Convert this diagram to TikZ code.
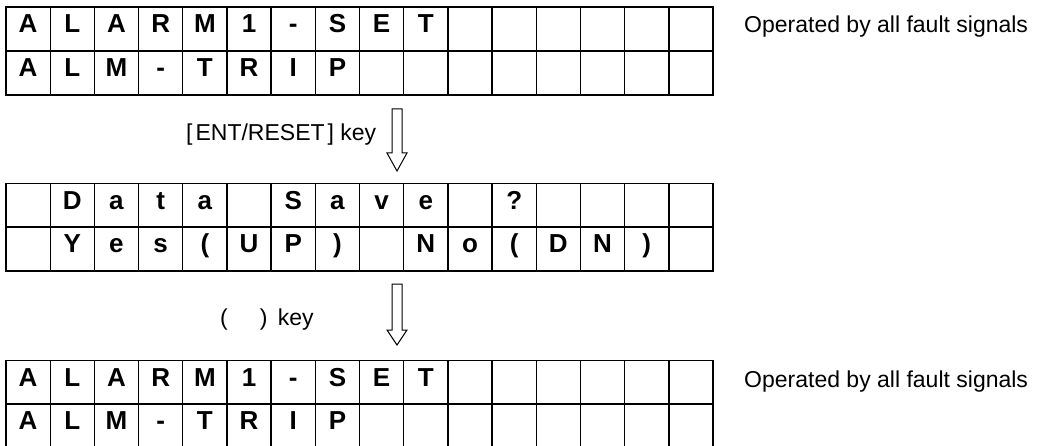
\documentclass[tikz,border=0pt]{standalone}
\usepackage{fontspec}
\setmainfont{Liberation Sans}
\newcommand\lcdrow[3]{%
  \foreach \ch [count=\i] in {#3} {%
    \node[cell] (#1-\i) at ({6+44.19*(\i-0.5)}, #2) {\ch};}}
\begin{document}
\begin{tikzpicture}[x=1pt,y=-1pt,
  cell/.style={draw, line width=1.3pt, minimum width=44.19pt, minimum height=44pt,
    inner sep=0pt, font=\fontsize{26}{30}\selectfont\bfseries,
    text height=0.716em, text depth=0pt},
  lbl/.style={font=\fontsize{23}{28}\selectfont, inner sep=0pt},
  downarrow/.style={draw, line width=1pt, fill=white}]
\useasboundingbox (0,0) rectangle (1056,446);
% table 1
\lcdrow{ta}{29}{A,L,A,R,M,1,-,S,E,T,,,,,,}
\lcdrow{tb}{73}{A,L,M,-,T,R,I,P,,,,,,,,}
% table 2
\lcdrow{da}{205.5}{,D,a,t,a,,S,a,v,e,,?,,,,}
\lcdrow{db}{249}{,Y,e,s,{(},U,P,{)},,N,o,{(},D,N,{)},}
% table 3
\lcdrow{ua}{382.5}{A,L,A,R,M,1,-,S,E,T,,,,,,}
\lcdrow{ub}{426}{A,L,M,-,T,R,I,P,,,,,,,,}
% labels
\node[lbl, anchor=base west] (op1) at (744,33) {Operated by all fault signals};
\node[lbl, anchor=base west] (op3) at (744,387) {Operated by all fault signals};
\node[lbl, anchor=base west] (k1) at (186,140.5) {[\hspace{3pt}ENT/RESET\hspace{3pt}] key};
\node[lbl, anchor=base west] (k2) at (220,325) {(\hspace{32pt})\hspace{4pt} key};
% arrows
\draw[downarrow] (392,109) -- (402,109) -- (402,153) -- (407,153) -- (397,171)
  -- (387,153) -- (392,153) -- cycle;
\draw[downarrow] (392,284) -- (402,284) -- (402,330) -- (407,330) -- (397,345)
  -- (387,330) -- (392,330) -- cycle;
\end{tikzpicture}
\end{document}
